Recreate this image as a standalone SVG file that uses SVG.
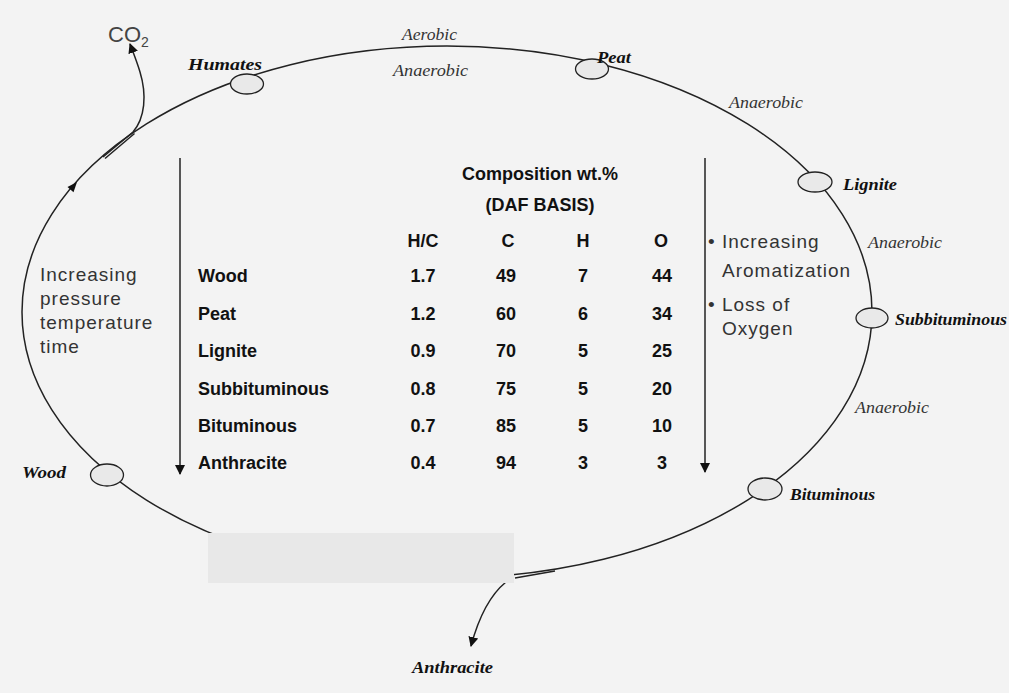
<svg xmlns="http://www.w3.org/2000/svg" width="1009" height="693" viewBox="0 0 1009 693">
<defs>
<style>
.bg{fill:#f3f3f3}
.curve{fill:none;stroke:#222;stroke-width:1.5}
.node{fill:#e9e9e9;stroke:#222;stroke-width:1.3}
.nl{font-family:"Liberation Serif",serif;font-style:italic;font-weight:bold;font-size:16px;fill:#111}
.ae{font-family:"Liberation Serif",serif;font-style:italic;font-size:16px;fill:#333}
.tb{font-family:"Liberation Sans",Arial,sans-serif;font-weight:bold;font-size:18px;fill:#111}
.tc{text-anchor:middle}
.gl{font-family:"Liberation Sans",Arial,sans-serif;font-size:19px;fill:#333;letter-spacing:1px}
.arr{stroke:#222;stroke-width:1.5;fill:none}
</style>
<marker id="ah" viewBox="0 0 10 10" refX="9" refY="5" markerWidth="10" markerHeight="10" markerUnits="userSpaceOnUse" orient="auto">
<path d="M0,0 L10,5 L0,10 Z" fill="#111"/>
</marker>
</defs>
<rect class="bg" x="0" y="0" width="1009" height="693"/>

<g id="connectors">
<ellipse class="curve" cx="447" cy="312" rx="425" ry="266"/>
<polygon points="77,182 73.5,192.2 67.5,187" fill="#111"/>
<path class="arr" d="M103,157 L133,132 C145,118 147,95 140,72 C137,62 133,52 130,44" marker-end="url(#ah)"/>
<path class="arr" d="M105,158.5 L134.5,133.5" stroke-width="1"/>
<path class="arr" d="M555,571 L515,578" stroke-width="1.2"/>
<path class="arr" d="M506,582 C490,595 478,620 471,646" marker-end="url(#ah)"/>
<line class="arr" x1="180" y1="158" x2="180" y2="474" marker-end="url(#ah)"/>
<line class="arr" x1="705" y1="158" x2="705" y2="472" marker-end="url(#ah)"/>
</g>

<rect x="208" y="533" width="306" height="50" fill="#e8e8e8"/>

<g id="node-humates"><ellipse class="node" cx="247" cy="84" rx="16.5" ry="10"/><text class="nl" x="188" y="70" textLength="74" lengthAdjust="spacingAndGlyphs">Humates</text></g>
<g id="node-peat"><ellipse class="node" cx="592" cy="69" rx="16.5" ry="10"/><text class="nl" x="597" y="63" textLength="34" lengthAdjust="spacingAndGlyphs">Peat</text></g>
<g id="node-lignite"><ellipse class="node" cx="815" cy="182" rx="17" ry="10"/><text class="nl" x="843" y="190" textLength="54" lengthAdjust="spacingAndGlyphs">Lignite</text></g>
<g id="node-subbituminous"><ellipse class="node" cx="872" cy="318" rx="16" ry="10"/><text class="nl" x="895" y="325" textLength="112" lengthAdjust="spacingAndGlyphs">Subbituminous</text></g>
<g id="node-bituminous"><ellipse class="node" cx="765" cy="489" rx="17" ry="11"/><text class="nl" x="790" y="500" textLength="85" lengthAdjust="spacingAndGlyphs">Bituminous</text></g>
<g id="node-wood"><ellipse class="node" cx="107" cy="475" rx="16.5" ry="11"/><text class="nl" x="22" y="478" textLength="44" lengthAdjust="spacingAndGlyphs">Wood</text></g>
<g id="node-anthracite"><text class="nl" x="412" y="673" textLength="81" lengthAdjust="spacingAndGlyphs">Anthracite</text></g>
<g id="node-co2"><text x="108" y="42" font-family="Liberation Sans,Arial,sans-serif" font-size="22" fill="#444">CO<tspan font-size="14" dy="5">2</tspan></text></g>

<g id="labels">
<text class="ae" x="402" y="40" textLength="55" lengthAdjust="spacingAndGlyphs">Aerobic</text>
<text class="ae" x="393" y="76" textLength="75" lengthAdjust="spacingAndGlyphs">Anaerobic</text>
<text class="ae" x="729" y="108" textLength="74" lengthAdjust="spacingAndGlyphs">Anaerobic</text>
<text class="ae" x="868" y="248" textLength="74" lengthAdjust="spacingAndGlyphs">Anaerobic</text>
<text class="ae" x="855" y="413" textLength="74" lengthAdjust="spacingAndGlyphs">Anaerobic</text>

<text class="gl" x="40" y="281">Increasing</text>
<text class="gl" x="40" y="305">pressure</text>
<text class="gl" x="40" y="329">temperature</text>
<text class="gl" x="40" y="353">time</text>

<text class="gl" x="708" y="248">• Increasing</text>
<text class="gl" x="722" y="277">Aromatization</text>
<text class="gl" x="708" y="311">• Loss of</text>
<text class="gl" x="722" y="335">Oxygen</text>
</g>

<g id="table">
<text class="tb tc" x="540" y="180">Composition wt.%</text>
<text class="tb tc" x="540" y="211">(DAF BASIS)</text>
<text class="tb tc" x="423" y="247">H/C</text>
<text class="tb tc" x="508" y="247">C</text>
<text class="tb tc" x="583" y="247">H</text>
<text class="tb tc" x="661" y="247">O</text>

<text class="tb" x="198" y="282">Wood</text>
<text class="tb" x="198" y="320">Peat</text>
<text class="tb" x="198" y="357">Lignite</text>
<text class="tb" x="198" y="395">Subbituminous</text>
<text class="tb" x="198" y="432">Bituminous</text>
<text class="tb" x="198" y="469">Anthracite</text>

<text class="tb tc" x="423" y="282">1.7</text><text class="tb tc" x="506" y="282">49</text><text class="tb tc" x="583" y="282">7</text><text class="tb tc" x="662" y="282">44</text>
<text class="tb tc" x="423" y="320">1.2</text><text class="tb tc" x="506" y="320">60</text><text class="tb tc" x="583" y="320">6</text><text class="tb tc" x="662" y="320">34</text>
<text class="tb tc" x="423" y="357">0.9</text><text class="tb tc" x="506" y="357">70</text><text class="tb tc" x="583" y="357">5</text><text class="tb tc" x="662" y="357">25</text>
<text class="tb tc" x="423" y="395">0.8</text><text class="tb tc" x="506" y="395">75</text><text class="tb tc" x="583" y="395">5</text><text class="tb tc" x="662" y="395">20</text>
<text class="tb tc" x="423" y="432">0.7</text><text class="tb tc" x="506" y="432">85</text><text class="tb tc" x="583" y="432">5</text><text class="tb tc" x="662" y="432">10</text>
<text class="tb tc" x="423" y="469">0.4</text><text class="tb tc" x="506" y="469">94</text><text class="tb tc" x="583" y="469">3</text><text class="tb tc" x="662" y="469">3</text>
</g>
</svg>
